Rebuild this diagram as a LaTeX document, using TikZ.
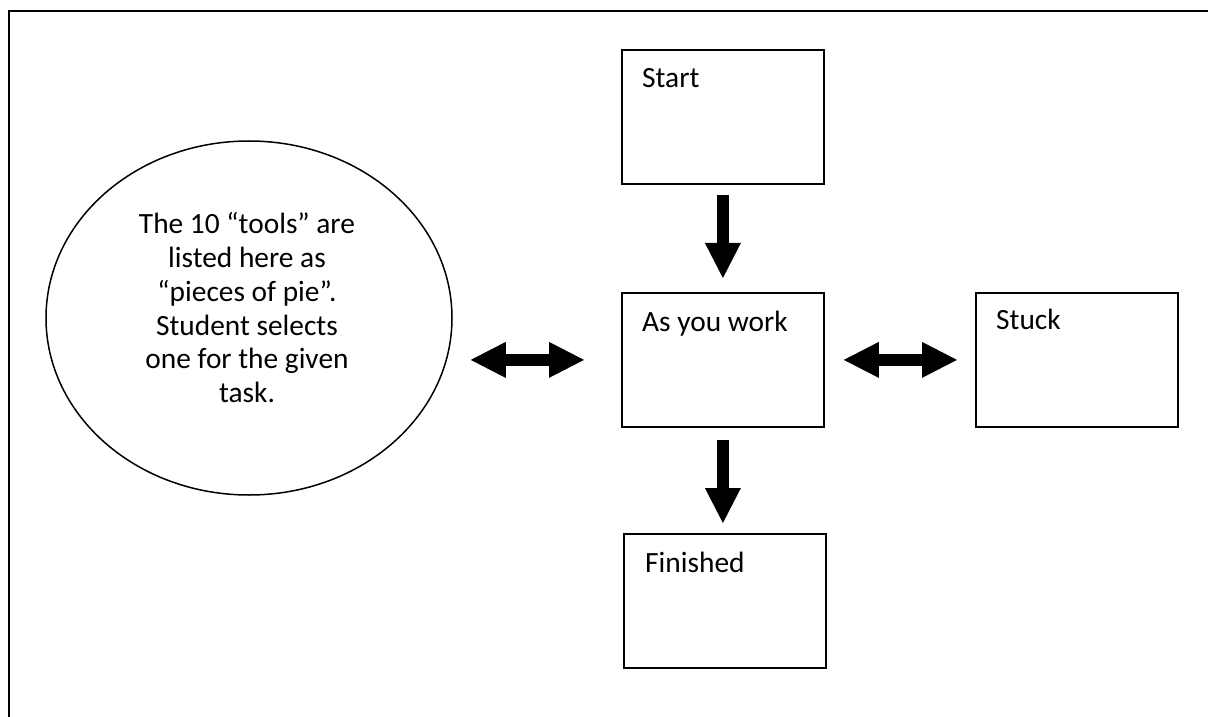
\documentclass[tikz,border=0pt]{standalone}
\usepackage{fontspec}
\setmainfont{Carlito}
\usetikzlibrary{arrows.meta,shapes.geometric,calc}
\begin{document}
\begin{tikzpicture}[x=1bp,y=-1bp,
  box/.style={draw, line width=1.8bp, minimum width=202bp, minimum height=134bp, inner sep=0pt, anchor=north west},
  txt/.style={inner sep=0pt, font=\fontsize{29.5}{34}\selectfont},
  boxtext/.style={txt, anchor=base west},
  tipx/.tip={Triangle[width=36bp,length=35bp,line width=0pt]},
  blockdown/.style={line width=12.5bp, -tipx},
  blockboth/.style={line width=12.5bp, tipx-tipx},
]
\useasboundingbox (0,0) rectangle (1208,717);
\draw[line width=2.6bp] (9,717) -- (9,11) -- (1208,11);

\node[box] (start) at (621,49) {};
\node[box] (work) at (621,292) {};
\node[box] (finished) at (623,533) {};
\node[box] (stuck) at (975,292) {};

\node[boxtext] (starttext) at ($(start.north west)+(21,39)$) {Start};
\node[boxtext] (worktext) at ($(work.north west)+(21,39)$) {As you work};
\node[boxtext] (finishedtext) at ($(finished.north west)+(22,39)$) {Finished};
\node[boxtext] (stucktext) at ($(stuck.north west)+(21,37)$) {Stuck};

\node[draw, ellipse, line width=1.5bp, minimum width=406bp, minimum height=354bp, inner sep=0pt] (pie) at (249,318) {};
\node[txt, align=center, anchor=north] (pietext) at (247,212) {The 10 “tools” are\\ listed here as\\ “pieces of pie”.\\ Student selects\\ one for the given\\ task.};

\draw[blockdown, shorten <=10bp, shorten >=14bp] (start.south) -- (work.north);
\draw[blockdown, shorten <=12bp, shorten >=10bp] (work.south) -- (work.south |- finished.north);
\draw[blockboth, shorten <=19bp, shorten >=18bp] (work.east) -- (stuck.west);
\draw[blockboth, shorten <=18bp, shorten >=37bp] (pie.east |- work.center) -- (work.west);
\end{tikzpicture}
\end{document}
